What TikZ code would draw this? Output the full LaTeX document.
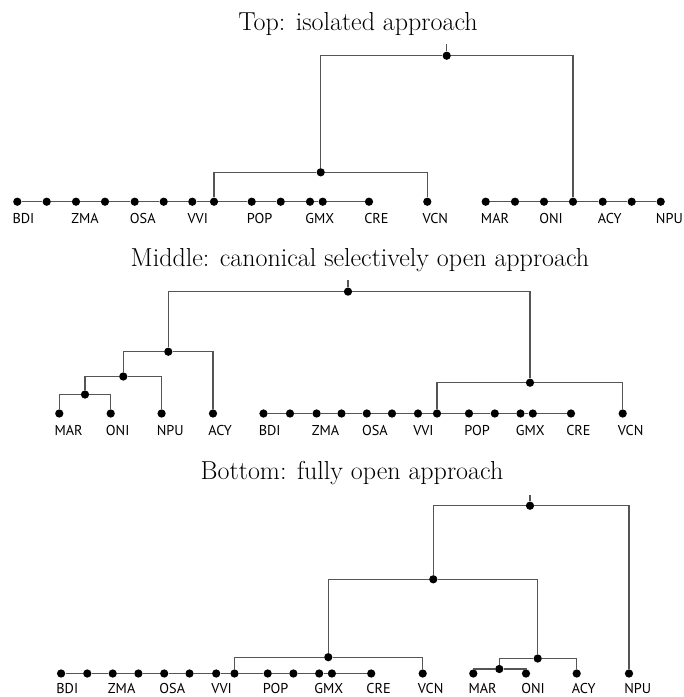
\documentclass[tikz,border=0pt]{standalone}
\usepackage{fontspec}
\newfontfamily\taxonfont{PT Sans}
\usetikzlibrary{calc}
\definecolor{branchGrey}{RGB}{85,85,85}

\begin{document}
\begin{tikzpicture}[
  x=0.75pt,y=-0.75pt,
  dot/.style={
    circle,
    fill=black,
    inner sep=0pt,
    minimum size=6.2pt
  },
  branch/.style={branchGrey,line width=0.9pt},
  taxon/.style={anchor=base west,inner sep=0pt,font=\taxonfont\fontsize{10.7}{12}\selectfont},
  heading/.style={anchor=base,inner sep=0pt,font=\fontsize{19.5}{23}\selectfont}
]
  \useasboundingbox (0,0) rectangle (684,697);

  % top: isolated approach
  \node[heading] (toptitle) at (358,30.5) {Top: isolated approach};
  \foreach \n/\x in {1/17.3,2/46.7,3/76,4/105,5/134.7,6/163.7,7/192.3,8/214,9/251.7,10/280.7,11/310,12/322.7,13/369}
    \node[dot] (top\n) at (\x,201.7) {};
  \foreach \n/\x in {1/485.7,2/515,3/544,4/573,5/602.7,6/631.7,7/660.7}
    \node[dot] (topR\n) at (\x,201.7) {};
  \node[dot] (topVCN) at (427.3,201.7) {};
  \node[dot] (toproot) at (446.7,55.7) {};
  \node[dot] (topsplit) at (320.7,172.3) {};
  \coordinate (toptip) at (446.7,44.3);
  \foreach \a/\b in {1/2,2/3,3/4,4/5,5/6,6/7,7/8,8/9,9/10,10/11,11/12,12/13}
    \draw[branch] (top\a) -- (top\b);
  \foreach \a/\b in {1/2,2/3,3/4,4/5,5/6,6/7}
    \draw[branch] (topR\a) -- (topR\b);
  \draw[branch] (toproot) -- (toptip);
  \draw[branch] (toproot) -| (topsplit);
  \draw[branch] (toproot) -| (topR4);
  \draw[branch] (topsplit) -| (top8);
  \draw[branch] (topsplit) -| (topVCN);
  \foreach \n/\t in {top1/BDI,top3/ZMA,top5/OSA,top7/VVI,top9/POP,top11/GMX,top13/CRE,topVCN/VCN,topR1/MAR,topR3/ONI,topR5/ACY,topR7/NPU}
    \node[taxon] (\n-tag) at ($(\n)+(-5,22)$) {\t};

  % middle: canonical selectively open approach
  \node[heading] (midtitle) at (360,266) {Middle: canonical selectively open approach};
  \foreach \n/\x in {1/263.5,2/290,3/316.6,4/341.5,5/366.8,6/392,7/418,8/437,9/469,10/494.8,11/520.5,12/532.8,13/571}
    \node[dot] (mid\n) at (\x,413.5) {};
  \node[dot] (midMAR) at (59.3,413.5) {};
  \node[dot] (midONI) at (110.7,413.5) {};
  \node[dot] (midNPU) at (161.6,413.5) {};
  \node[dot] (midACY) at (213,413.5) {};
  \node[dot] (midVCN) at (622.7,413.5) {};
  \node[dot] (midroot) at (348,291.6) {};
  \node[dot] (midsplitA) at (168.3,351.7) {};
  \node[dot] (midsplitB) at (123.3,376.5) {};
  \node[dot] (midsplitC) at (85,394.5) {};
  \node[dot] (midsplitD) at (530,382.7) {};
  \coordinate (midtip) at (348,280.4);
  \foreach \a/\b in {1/2,2/3,3/4,4/5,5/6,6/7,7/8,8/9,9/10,10/11,11/12,12/13}
    \draw[branch] (mid\a) -- (mid\b);
  \draw[branch] (midroot) -- (midtip);
  \draw[branch] (midroot) -| (midsplitA);
  \draw[branch] (midroot) -| (midsplitD);
  \draw[branch] (midsplitA) -| (midsplitB);
  \draw[branch] (midsplitA) -| (midACY);
  \draw[branch] (midsplitB) -| (midsplitC);
  \draw[branch] (midsplitB) -| (midNPU);
  \draw[branch] (midsplitC) -| (midMAR);
  \draw[branch] (midsplitC) -| (midONI);
  \draw[branch] (midsplitD) -| (mid8);
  \draw[branch] (midsplitD) -| (midVCN);
  \foreach \n/\t in {midMAR/MAR,midONI/ONI,midNPU/NPU,midACY/ACY,mid1/BDI,mid3/ZMA,mid5/OSA,mid7/VVI,mid9/POP,mid11/GMX,mid13/CRE,midVCN/VCN}
    \node[taxon] (\n-tag) at ($(\n)+(-5,22)$) {\t};

  % bottom: fully open approach
  \node[heading] (bottitle) at (352,479) {Bottom: fully open approach};
  \foreach \n/\x in {1/61.1,2/87.3,3/112.7,4/138.4,5/164.2,6/189.5,7/216.2,8/234.5,9/267.7,10/293.4,11/319.2,12/331.9,13/371.2}
    \node[dot] (bot\n) at (\x,673.5) {};
  \node[dot] (botVCN) at (422.7,673.5) {};
  \node[dot] (botMAR) at (473.3,673.5) {};
  \node[dot] (botONI) at (526,673.5) {};
  \node[dot] (botACY) at (576.7,673.5) {};
  \node[dot] (botNPU) at (629,673.5) {};
  \node[dot] (botroot) at (530,505.7) {};
  \node[dot] (botsplitA) at (433.3,579.3) {};
  \node[dot] (botsplitB) at (328.3,657.2) {};
  \node[dot] (botsplitC) at (537.7,658.5) {};
  \node[dot] (botsplitD) at (499.3,669) {};
  \coordinate (bottip) at (530,495);
  \foreach \a/\b in {1/2,2/3,3/4,4/5,5/6,6/7,7/8,8/9,9/10,10/11,11/12,12/13}
    \draw[branch] (bot\a) -- (bot\b);
  \draw[branch] (botroot) -- (bottip);
  \draw[branch] (botroot) -| (botsplitA);
  \draw[branch] (botroot) -| (botNPU);
  \draw[branch] (botsplitA) -| (botsplitB);
  \draw[branch] (botsplitA) -| (botsplitC);
  \draw[branch] (botsplitB) -| (bot8);
  \draw[branch] (botsplitB) -| (botVCN);
  \draw[branch] (botsplitC) -| (botsplitD);
  \draw[branch] (botsplitC) -| (botACY);
  \draw[branch] (botsplitD) -| (botMAR);
  \draw[branch] (botsplitD) -| (botONI);
  \foreach \n/\t in {bot1/BDI,bot3/ZMA,bot5/OSA,bot7/VVI,bot9/POP,bot11/GMX,bot13/CRE,botVCN/VCN,botMAR/MAR,botONI/ONI,botACY/ACY,botNPU/NPU}
    \node[taxon] (\n-tag) at ($(\n)+(-5,20)$) {\t};
\end{tikzpicture}
\end{document}
